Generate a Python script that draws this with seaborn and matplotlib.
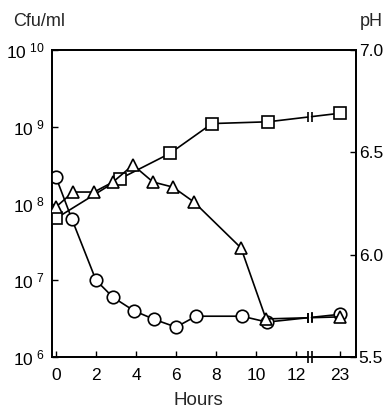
import numpy as np
import matplotlib
matplotlib.use("Agg")
import matplotlib.pyplot as plt
import matplotlib.transforms as mtransforms
import seaborn as sns

# ---- data ----
sq_hours = [0, 3.2, 5.7, 7.8, 10.6, 23]
sq_cfu = [6.4e7, 2.1e8, 4.5e8, 1.1e9, 1.16e9, 1.5e9]

ci_hours = [0, 0.8, 2.0, 2.85, 3.9, 4.9, 6.0, 7.0, 9.3, 10.55, 23]
ci_cfu = [2.2e8, 6.2e7, 1.0e7, 6.0e6, 4.0e6, 3.1e6, 2.45e6, 3.4e6, 3.4e6, 2.85e6, 3.6e6]

tr_hours = [0, 0.85, 1.9, 2.85, 3.85, 4.85, 5.85, 6.9, 9.25, 10.5, 23]
tr_ph = [6.233, 6.306, 6.306, 6.355, 6.438, 6.355, 6.33, 6.257, 6.033, 5.686, 5.696]

xtick_hours = [0, 2, 4, 6, 8, 10, 12, 23]
xtick_labels = ["0", "2", "4", "6", "8", "10", "12", "23"]
left_ticks = [1e6, 1e7, 1e8, 1e9, 1e10]
left_labels = ["6", "7", "8", "9", "10"]
right_ticks = [5.5, 6.0, 6.5, 7.0]
right_labels = ["5.5", "6.0", "6.5", "7.0"]

# ---- broken axis mapping ----
BREAK_HOUR = 12
LATE_POS = 14.2
B1, B2 = 12.58, 12.78


def pos(h):
    return h if h <= BREAK_HOUR else LATE_POS


sns.set_theme(style="white")
plt.rcParams["font.family"] = ["Liberation Sans", "DejaVu Sans"]
plt.rcParams["mathtext.fontset"] = "custom"
plt.rcParams["mathtext.rm"] = "Liberation Sans"

fig = plt.figure(figsize=(3.85, 4.09), dpi=100)
ax = fig.add_axes([52 / 385, 1 - 357 / 409, (356 - 52) / 385, (357 - 50) / 409])
ax2 = ax.twinx()

mstyle = dict(color="black", markerfacecolor="white", markeredgecolor="black",
              markeredgewidth=1.2, linewidth=1.2)


def draw(axis, hours, vals, marker, ms, logy):
    early = [(pos(h), v) for h, v in zip(hours, vals) if h <= BREAK_HOUR]
    late = [(pos(h), v) for h, v in zip(hours, vals) if h > BREAK_HOUR]
    ex = [p[0] for p in early]
    ev = [p[1] for p in early]
    x0, v0 = early[-1]
    x1, v1 = late[0]
    if logy:
        f = lambda b: 10 ** np.interp(b, [x0, x1], [np.log10(v0), np.log10(v1)])
    else:
        f = lambda b: np.interp(b, [x0, x1], [v0, v1])
    axis.plot([x0, B1], [v0, f(B1)], color="black", lw=1.2, zorder=2)
    axis.plot([B2, x1], [f(B2), v1], color="black", lw=1.2, zorder=2)
    axis.plot([B1, B2], [f(B1), f(B2)], ls="none", marker="|", ms=7,
              mew=1.2, color="black", zorder=2)
    sns.lineplot(x=ex, y=ev, ax=axis, marker=marker, markersize=ms, sort=False,
                 estimator=None, errorbar=None, zorder=3, **mstyle)
    sns.lineplot(x=[x1], y=[v1], ax=axis, marker=marker, markersize=ms,
                 estimator=None, errorbar=None, zorder=3, **mstyle)


ax.set_yscale("log")
draw(ax, sq_hours, sq_cfu, "s", 8.5, True)
draw(ax, ci_hours, ci_cfu, "o", 9.0, True)
draw(ax2, tr_hours, tr_ph, "^", 9.0, False)

ax.set_xlim(-0.2, 15.0)
ax.set_ylim(1e6, 1e10)
ax2.set_ylim(5.5, 7.0)

ax.set_yticks(left_ticks)
ax.set_yticklabels([r"$\mathregular{10^{\ %s}}$" % s for s in left_labels])
ax.yaxis.set_minor_locator(matplotlib.ticker.NullLocator())
ax2.set_yticks(right_ticks)
ax2.set_yticklabels(right_labels)
ax.set_xticks([pos(h) for h in xtick_hours])
ax.set_xticklabels(xtick_labels)

ax.tick_params(axis="both", direction="in", length=4, width=1.0, colors="black",
               labelsize=12.5)
ax.tick_params(axis="x", pad=8, bottom=True)
ax.tick_params(axis="y", pad=5, left=True)
ax2.tick_params(axis="y", direction="in", length=4, width=1.0, right=True,
                labelsize=12.5, pad=2, colors="black")
ax.set_ylabel("")
ax2.set_ylabel("")

for a in (ax, ax2):
    for s in a.spines.values():
        s.set_visible(True)
        s.set_color("black")
        s.set_linewidth(1.3)

ax.set_xlabel("Hours", fontsize=13.5)
ax.xaxis.set_label_coords(0.48, -0.115)

# break on bottom spine
trans = mtransforms.blended_transform_factory(ax.transData, ax.transAxes)
ax.plot([B1 + 0.02, B2 - 0.02], [0, 0], transform=trans, color="white", lw=2.5,
        clip_on=False, zorder=10)
ax.plot([B1, B2], [0, 0], transform=trans, ls="none", marker="|", ms=8,
        mew=1.2, color="black", clip_on=False, zorder=11)

fig.text(13 / 385, 1 - 22 / 409, "Cfu/ml", fontsize=13, va="center", ha="left")
fig.text(360 / 385, 1 - 22 / 409, "pH", fontsize=13, va="center", ha="left")

fig.savefig("out.png", dpi=100, facecolor="white")
